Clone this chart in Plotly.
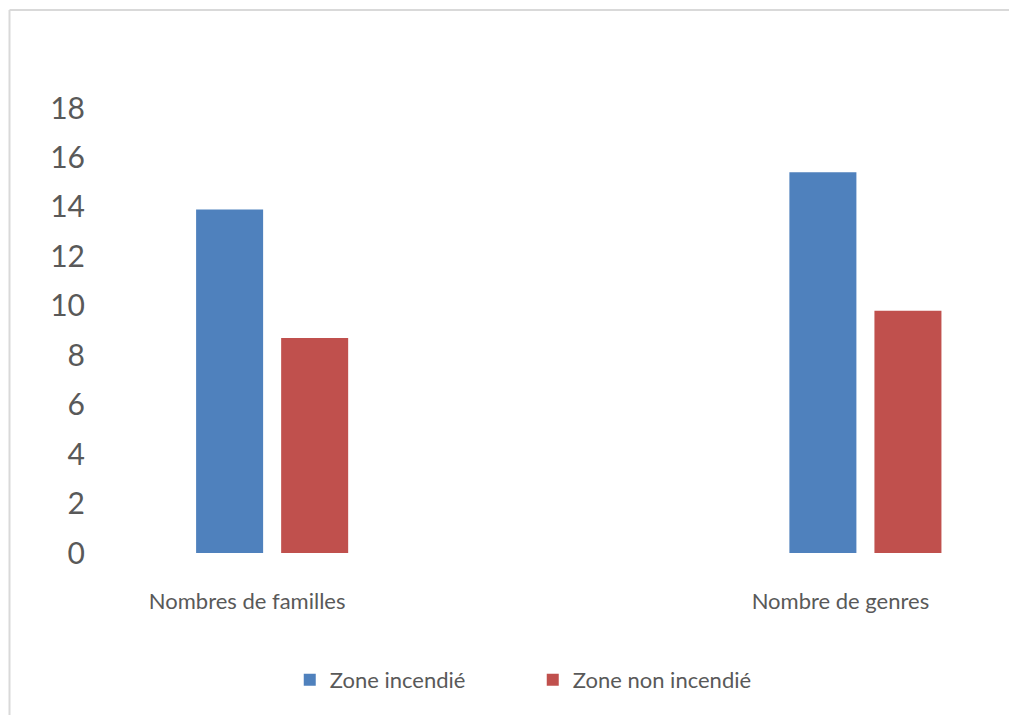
import plotly.graph_objects as go

# Data
categories = ["Nombres de familles", "Nombre de genres"]
zone_incendie = [13.9, 15.4]
zone_non_incendie = [8.7, 9.8]
y_ticks = [0, 2, 4, 6, 8, 10, 12, 14, 16, 18]

W, H = 1009, 715
L, R, T, B = 90, 19, 90, 162
TEXT = "#595959"
FONT = "Lato"

fig = go.Figure()
fig.add_trace(go.Bar(name="Zone incendié", x=categories, y=zone_incendie,
                     marker=dict(color="#4F81BD", line=dict(width=0))))
fig.add_trace(go.Bar(name="Zone non incendié", x=categories, y=zone_non_incendie,
                     marker=dict(color="#C0504D", line=dict(width=0))))

pw = W - L - R
ph = H - T - B

def px_x(px):
    return (px - L) / pw

def px_y(py):
    return (H - B - py) / ph

# light frame around the chart (top and left edges)
frame = dict(color="#D9D9D9", width=2)
fig.add_shape(type="line", xref="paper", yref="paper",
              x0=px_x(9.5), x1=px_x(1009), y0=px_y(10), y1=px_y(10), line=frame)
fig.add_shape(type="line", xref="paper", yref="paper",
              x0=px_x(9.5), x1=px_x(9.5), y0=px_y(10), y1=px_y(715), line=frame)

fig.update_layout(
    width=W, height=H,
    margin=dict(l=L, r=R, t=T, b=B, pad=0),
    paper_bgcolor="white", plot_bgcolor="white",
    barmode="group", bargap=0.7133, bargroupgap=0.212,
    font=dict(family=FONT, color=TEXT),
    showlegend=True,
    legend=dict(orientation="h", xref="container", yref="container",
                x=0.528, y=0.049, xanchor="center", yanchor="middle",
                font=dict(size=22, color=TEXT), entrywidth=198,
                itemwidth=30),
    xaxis=dict(range=[-0.307, 1.21], showgrid=False, zeroline=False,
               showline=False, ticks="", tickfont=dict(size=22, color=TEXT),
               ticklabelshift=-25, ticklabelstandoff=33),
    yaxis=dict(range=[0, 18.73], tickvals=y_ticks, showgrid=False,
               zeroline=False, showline=False, ticks="",
               tickfont=dict(size=30, color=TEXT), ticklabelstandoff=4),
)

fig.write_html("out.html")
